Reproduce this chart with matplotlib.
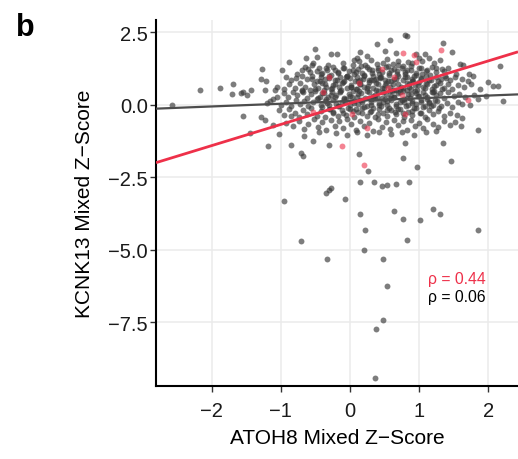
import matplotlib
matplotlib.use("Agg")
import matplotlib.pyplot as plt
import numpy as np

plt.rcParams['font.family'] = ['Liberation Sans', 'DejaVu Sans']

# ---- grey points (all genes), by band ----
a_x = [0.385, 0.58, 0.80, 0.83, 1.35, 1.48, -0.50, 0.66, 1.08, 0.96, -0.28, -0.19, 2.17, 0.14, 0.50]
a_y = [2.10, 2.24, 2.39, 2.37, 2.14, 1.82, 1.91, 1.78, 1.76, 1.76, 1.76, 1.74, 1.33, 1.80, 1.85]

b_x = [-0.63, -0.47, -0.54, -0.88, -0.32, 0.06, 0.13, 0.24, 0.10, 0.385, 0.48, 0.53, 0.70, 0.84, 1.00,
       1.04, 1.21, 1.30, 1.59, 1.64, 0.30, 0.62, -0.10, 0.90, 1.15]
b_y = [1.61, 1.64, 1.44, 1.47, 1.38, 1.53, 1.49, 1.67, 1.62, 1.41, 1.45, 1.59, 1.50, 1.48, 1.60,
       1.50, 1.45, 1.53, 1.41, 1.35, 1.55, 1.40, 1.45, 1.42, 1.62]

c_x = [-1.27, -0.98, -0.77, -0.70, -0.65, -0.58, -0.45, -0.40, -0.33, -0.25,
       -0.18, -0.10, -0.02, 0.05, 0.12, 0.18, 0.25, 0.32, 0.40, 0.46,
       0.55, 0.60, 0.68, 0.75, 0.82, 0.88, 0.95, 1.02, 1.10, 1.18,
       1.25, 1.33, 1.42, 1.54, 1.72, 1.78, 0.22, 0.70, -0.55]
c_y = [1.22, 1.20, 1.07, 1.18, 1.30, 1.13, 1.25, 1.10, 1.18, 1.30,
       1.12, 1.25, 1.15, 1.35, 1.22, 1.10, 1.30, 1.18, 1.25, 1.12,
       1.32, 1.20, 1.15, 1.28, 1.18, 1.32, 1.10, 1.25, 1.15, 1.30,
       1.12, 1.22, 1.28, 1.07, 1.07, 1.00, 1.38, 1.38, 1.35]

d_x = [-1.29, -1.21, -0.92, -0.85, -0.78, -0.70, -0.62, -0.55, -0.48, -0.42,
       -0.36, -0.28, -0.22, -0.15, -0.08, 0.00, 0.06, 0.14, 0.20, 0.27,
       0.33, 0.38, 0.45, 0.50, 0.57, 0.63, 0.70, 0.76, 0.83, 0.90,
       0.96, 1.03, 1.10, 1.17, 1.24, 1.31, 1.38, 1.45, 1.52, 1.62,
       1.70, 2.00, 0.10, 0.42, 0.80, -0.05]
d_y = [0.87, 0.80, 0.95, 0.85, 0.92, 1.00, 0.88, 0.98, 0.82, 0.95,
       0.88, 1.02, 0.85, 0.97, 0.82, 0.92, 1.04, 0.86, 0.98, 0.84,
       1.00, 0.90, 0.96, 0.84, 1.02, 0.90, 0.98, 0.86, 0.96, 0.88,
       1.02, 0.90, 0.98, 0.84, 0.96, 0.88, 1.00, 0.85, 0.95, 0.90,
       0.82, 0.78, 0.95, 1.05, 1.05, 1.00]

e_x = [-1.69, -1.23, -1.05, -0.95, -0.88, -0.80, -0.72, -0.65, -0.58, -0.52,
       -0.46, -0.40, -0.34, -0.28, -0.22, -0.16, -0.10, -0.04, 0.02, 0.08,
       0.15, 0.21, 0.28, 0.34, 0.40, 0.46, 0.52, 0.58, 0.64, 0.70,
       0.76, 0.82, 0.88, 0.94, 1.00, 1.06, 1.12, 1.18, 1.24, 1.30,
       1.36, 1.42, 1.48, 1.56, 1.65, 1.75, 2.07, 2.14, 1.88, 0.12,
       0.60, 0.90, -0.70, -1.43]
e_y = [0.72, 0.52, 0.62, 0.55, 0.70, 0.58, 0.75, 0.62, 0.52, 0.70,
       0.58, 0.76, 0.62, 0.54, 0.72, 0.60, 0.78, 0.56, 0.68, 0.55,
       0.72, 0.60, 0.78, 0.56, 0.70, 0.58, 0.76, 0.62, 0.52, 0.72,
       0.58, 0.74, 0.55, 0.68, 0.78, 0.60, 0.72, 0.54, 0.68, 0.76,
       0.58, 0.70, 0.55, 0.66, 0.60, 0.70, 0.64, 0.64, 0.55, 0.80,
       0.80, 0.80, 0.52, 0.52]

f_x = [-2.17, -1.88, -1.70, -1.54, -1.49, -1.58, -1.09, -1.05, -1.12, -0.95,
       -0.90, -0.82, -0.76, -0.68, -0.62, -0.56, -0.50, -0.44, -0.38, -0.32,
       -0.26, -0.20, -0.14, -0.08, -0.02, 0.04, 0.10, 0.16, 0.22, 0.28,
       0.34, 0.40, 0.46, 0.52, 0.58, 0.64, 0.70, 0.76, 0.82, 0.88,
       0.94, 1.00, 1.06, 1.12, 1.18, 1.24, 1.30, 1.36, 1.42, 1.50,
       1.58, 1.66, 1.80, 1.97, 1.85, 0.30, 0.66, -0.70]
f_y = [0.49, 0.58, 0.38, 0.44, 0.32, 0.40, 0.49, 0.25, 0.18, 0.40,
       0.28, 0.45, 0.32, 0.42, 0.22, 0.36, 0.48, 0.28, 0.40, 0.25,
       0.45, 0.32, 0.48, 0.22, 0.38, 0.46, 0.28, 0.40, 0.24, 0.44,
       0.30, 0.48, 0.22, 0.36, 0.46, 0.28, 0.40, 0.48, 0.24, 0.38,
       0.46, 0.30, 0.42, 0.26, 0.45, 0.32, 0.40, 0.22, 0.44, 0.30,
       0.38, 0.25, 0.32, 0.30, 0.20, 0.20, 0.50, 0.48]

g_x = [-2.58, -1.20, -1.15, -1.00, -0.92, -0.85, -0.78, -0.72, -0.66, -0.60,
       -0.54, -0.48, -0.42, -0.36, -0.30, -0.24, -0.18, -0.12, -0.06, 0.00,
       0.06, 0.12, 0.18, 0.24, 0.30, 0.36, 0.42, 0.48, 0.54, 0.60,
       0.66, 0.72, 0.78, 0.84, 0.90, 0.96, 1.02, 1.08, 1.14, 1.20,
       1.26, 1.32, 1.40, 1.48, 1.56, 1.74, 2.22, 1.62]
g_y = [-0.02, 0.05, 0.12, 0.00, 0.10, -0.05, 0.15, 0.02, 0.12, -0.06,
       0.08, 0.18, -0.02, 0.12, 0.00, 0.16, -0.04, 0.10, 0.18, -0.02,
       0.12, 0.02, 0.16, -0.05, 0.08, 0.18, -0.02, 0.10, 0.00, 0.15,
       -0.06, 0.08, 0.18, -0.02, 0.12, 0.02, 0.16, -0.05, 0.10, 0.00,
       0.14, -0.04, 0.06, -0.08, 0.10, -0.02, 0.11, 0.02]

h_x = [-1.54, -1.29, -1.23, -1.02, -0.95, -0.88, -0.80, -0.74, -0.68, -0.62,
       -0.56, -0.48, -0.42, -0.36, -0.30, -0.24, -0.18, -0.12, -0.06, 0.00,
       0.06, 0.12, 0.18, 0.24, 0.30, 0.36, 0.42, 0.48, 0.54, 0.60,
       0.66, 0.72, 0.78, 0.84, 0.90, 0.96, 1.02, 1.08, 1.14, 1.20,
       1.28, 1.36, 1.45, 1.55, 1.62, -0.85]
h_y = [-0.39, -0.42, -0.52, -0.20, -0.35, -0.15, -0.28, -0.42, -0.18, -0.32,
       -0.12, -0.38, -0.22, -0.44, -0.16, -0.30, -0.40, -0.20, -0.35, -0.14,
       -0.42, -0.26, -0.12, -0.38, -0.22, -0.44, -0.16, -0.30, -0.40, -0.18,
       -0.34, -0.14, -0.42, -0.24, -0.36, -0.12, -0.30, -0.44, -0.18, -0.32,
       -0.22, -0.40, -0.28, -0.36, -0.45, -0.40]

i_x = [-1.45, -1.11, -1.03, -0.92, -0.82, -0.74, -0.66, -0.60, -0.52, -0.46,
       -0.40, -0.34, -0.28, -0.22, -0.16, -0.10, -0.04, 0.02, 0.08, 0.14,
       0.20, 0.28, 0.34, 0.40, 0.46, 0.52, 0.58, 0.64, 0.70, 0.76,
       0.82, 0.88, 0.94, 1.00, 1.06, 1.12, 1.20, 1.28, 1.36, 1.44,
       1.52, 1.60, 1.85, 1.25]
i_y = [-0.98, -0.71, -1.00, -0.62, -0.75, -0.55, -0.85, -0.66, -0.50, -0.78,
       -0.60, -0.88, -0.52, -0.72, -0.58, -0.82, -0.50, -0.68, -0.86, -0.55,
       -0.74, -0.62, -0.90, -0.50, -0.76, -0.60, -0.84, -0.52, -0.70, -0.58,
       -0.88, -0.54, -0.72, -0.62, -0.82, -0.50, -0.66, -0.78, -0.55, -0.70,
       -0.60, -0.75, -0.89, -0.90]

j_x = [-0.85, -0.67, -0.53, -0.31, -0.20, -0.05, 0.10, 0.25, 0.42, 0.60, 0.75, 0.92, 1.10, 0.80, 1.35, -0.45, -1.19]
j_y = [-1.38, -1.09, -1.26, -1.40, -0.98, -1.05, -0.95, -1.05, -0.96, -1.02, -0.95, -1.04, -0.96, -1.34, -1.32, -0.95, -1.44]

k_x = [-0.71, -0.68, 0.135, 0.26, 0.76, 0.97, 1.46, 0.15, 0.35, 0.47, 0.54, 0.66, 0.85, -0.35, -0.30, -0.27, -0.96,
       -0.07, 0.15, 0.22, 0.63, 0.76, 0.83, 1.01, 1.20, 1.30, 1.85, -0.71, -0.33, 0.20, 0.48, 0.53, 0.48, 0.38, 0.36]
k_y = [-1.67, -1.77, -1.69, -2.30, -1.84, -2.14, -1.94, -2.67, -2.67, -2.80, -2.77, -2.75, -2.68, -3.03, -2.95, -2.87, -3.32,
       -3.27, -3.76, -4.32, -3.67, -3.95, -4.66, -3.99, -3.60, -3.78, -4.32, -4.71, -5.33, -5.01, -5.31, -6.25, -7.42, -7.75, -9.41]

core_x = [-0.42, -0.30, -0.18, -0.05, 0.08, 0.20, 0.32, 0.44, 0.56, 0.68,
          0.80, 0.92, 1.04, 1.16, -0.36, -0.24, -0.12, 0.02, 0.14, 0.26,
          0.38, 0.50, 0.62, 0.74, 0.86, 0.98, 1.10, 1.22, -0.40, -0.27,
          -0.14, 0.00, 0.12, 0.24, 0.36, 0.48, 0.60, 0.72, 0.84, 0.96,
          1.08, 1.20, -0.33, -0.20, -0.07, 0.06, 0.18, 0.30, 0.42, 0.54,
          0.66, 0.78, 0.90, 1.02, 1.14, -0.25, -0.10, 0.04, 0.17, 0.29,
          0.41, 0.53, 0.65, 0.77, 0.89, 1.01, 0.10, 0.35, 0.58, 0.82]
core_y = [1.05, 0.98, 1.08, 1.00, 1.12, 1.02, 1.08, 0.96, 1.10, 1.04,
          1.12, 0.98, 1.06, 1.02, 0.72, 0.66, 0.74, 0.62, 0.70, 0.64,
          0.76, 0.68, 0.72, 0.62, 0.70, 0.66, 0.74, 0.64, 0.40, 0.34,
          0.44, 0.30, 0.38, 0.46, 0.34, 0.42, 0.30, 0.44, 0.36, 0.40,
          0.32, 0.44, 0.06, 0.02, 0.10, 0.04, 0.08, -0.02, 0.06, 0.12,
          0.02, 0.08, 0.04, 0.10, 0.06, -0.25, -0.30, -0.22, -0.28, -0.24,
          -0.32, -0.20, -0.26, -0.30, -0.22, -0.28, 0.55, 0.85, 0.22, 0.50]

core2_x = [-0.60, -0.48, -0.35, -0.22, -0.09, 0.04, 0.16, 0.28, 0.40, 0.52,
           0.64, 0.76, 0.88, 1.00, 1.12, 1.24, 1.36, -0.55, -0.43, -0.31,
           -0.19, -0.06, 0.07, 0.19, 0.31, 0.43, 0.55, 0.67, 0.79, 0.91,
           1.03, 1.15, 1.27, 1.39, -0.50, -0.38, -0.26, -0.13, 0.01, 0.13,
           0.25, 0.37, 0.49, 0.61, 0.73, 0.85, 0.97, 1.09, 1.21, 1.33,
           -0.46, -0.34, -0.21, -0.09, 0.03, 0.15, 0.27, 0.39, 0.51, 0.63,
           0.75, 0.87, 0.99, 1.11, 1.23, -0.41, -0.29, -0.16, -0.03, 0.09,
           0.21, 0.33, 0.45, 0.57, 0.69, 0.81, 0.93, 1.05, 1.17, 1.29]
core2_y = [1.22, 1.16, 1.26, 1.19, 1.28, 1.20, 1.32, 1.24, 1.18, 1.30,
           1.22, 1.34, 1.20, 1.27, 1.18, 1.25, 1.16, 0.88, 0.82, 0.92,
           0.86, 0.94, 0.80, 0.90, 0.84, 0.93, 0.81, 0.89, 0.95, 0.83,
           0.91, 0.86, 0.80, 0.92, 0.55, 0.49, 0.58, 0.52, 0.60, 0.47,
           0.56, 0.51, 0.59, 0.48, 0.54, 0.61, 0.50, 0.57, 0.46, 0.53,
           0.24, 0.18, 0.27, 0.20, 0.25, 0.16, 0.22, 0.28, 0.19, 0.26,
           0.17, 0.23, 0.29, 0.21, 0.15, -0.08, -0.14, -0.05, -0.11, -0.16,
           -0.07, -0.12, -0.04, -0.10, -0.15, -0.06, -0.13, -0.09, -0.03, -0.12]

# ---- red points (highlighted subset) ----
red_x = [-0.12, 0.20, 1.71, 1.32, 0.76, 0.92, 0.96, -0.31, -0.53, 0.03, 0.24, 0.46, 0.55, 0.75, 0.79, 0.13, -0.39, 0.63]
red_y = [-1.42, -2.07, 0.17, 1.90, 1.78, 1.72, 1.47, 0.95, -0.25, -0.33, -0.79, 1.24, 0.59, 0.32, -0.31, 0.76, 0.44, 0.95]

# ---- fitted lines: [all genes, highlighted] ----
line_intercept = [0.125, 0.047]
line_slope = [0.094, 0.73]
rho_labels = ["ρ = 0.44", "ρ = 0.06"]

grey_x = a_x + b_x + c_x + d_x + e_x + f_x + g_x + h_x + i_x + j_x + k_x + core_x + core2_x
grey_y = a_y + b_y + c_y + d_y + e_y + f_y + g_y + h_y + i_y + j_y + k_y + core_y + core2_y

RED = '#ee3049'
fig = plt.figure(figsize=(5.18, 4.60), dpi=100)
ax = fig.add_axes([0.3012, 0.1594, 0.6988, 0.7957])

xlim = (-2.805, 2.43)
ylim = (-9.69, 2.93)

ax.scatter(grey_x, grey_y, s=18, color='#3a3a3a', alpha=0.66, linewidths=0, zorder=2)
ax.scatter(red_x, red_y, s=18, color=RED, alpha=0.6, linewidths=0, zorder=3)

xx = np.array(xlim)
ax.plot(xx, line_intercept[0] + line_slope[0] * xx, color='#4d4d4d', lw=1.6, zorder=4, solid_capstyle='butt')
ax.plot(xx, line_intercept[1] + line_slope[1] * xx, color=RED, lw=2.0, zorder=5, solid_capstyle='butt')

ax.text(1.13, -5.98, rho_labels[0], color=RED, fontsize=11.3, va='center', ha='left')
ax.text(1.13, -6.63, rho_labels[1], color='black', fontsize=11.3, va='center', ha='left')

ax.set_xlim(xlim)
ax.set_ylim(ylim)
ax.set_xticks([-2, -1, 0, 1, 2])
ax.set_yticks([2.5, 0.0, -2.5, -5.0, -7.5])
ax.grid(True, color='#ebebeb', lw=1.1, zorder=0)
ax.set_axisbelow(True)
for s in ['top', 'right']:
    ax.spines[s].set_visible(False)
for s in ['left', 'bottom']:
    ax.spines[s].set_linewidth(1.5)
    ax.spines[s].set_color('black')
ax.tick_params(axis='both', labelsize=14.5, length=4, width=1.0, color='#333333', labelcolor='#1a1a1a')
ax.tick_params(axis='y', pad=2)
ax.tick_params(axis='x', pad=7)

ax.set_xlabel("ATOH8 Mixed Z−Score", fontsize=15, labelpad=6)
ax.set_ylabel("KCNK13 Mixed Z−Score", fontsize=15, labelpad=10)

fig.text(16 / 518, 1 - 36 / 460, "b", fontsize=22, fontweight='bold', ha='left', va='baseline')

fig.savefig("out.png", dpi=100)
